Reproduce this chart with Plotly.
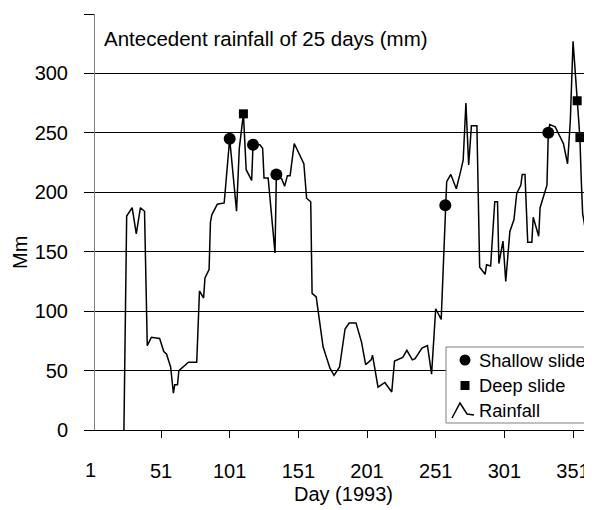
import plotly.graph_objects as go

# ---- data ----
rain_days = [24, 26, 30, 33, 36, 39, 41, 44, 50, 53, 55, 58, 60, 61, 63, 64, 71, 77, 79, 82,
             83, 86, 87, 88, 92, 97, 101, 106, 108, 111, 113, 117, 118, 123, 125, 126, 129, 134, 135, 139,
             141, 143, 145, 148, 155, 157, 160, 161, 164, 169, 174, 177, 181, 185, 188, 193, 197, 200, 204, 205,
             209, 214, 219, 221, 227, 230, 234, 236, 241, 245, 248, 251, 255, 258, 259, 262, 266, 269, 271, 273,
             275, 277, 281, 283, 287, 288, 291, 294, 296, 297, 300, 302, 305, 308, 310, 313, 314, 316, 318, 321,
             322, 326, 327, 332, 333, 334, 338, 341, 344, 347, 349, 351, 354, 356, 357, 358, 362, 365]
rain_vals = [0, 180, 187, 165, 187, 184, 71, 78, 77, 66, 64, 53, 31, 38, 38, 50, 57, 57, 117, 111,
             128, 135, 175, 181, 190, 191, 245, 184, 237, 266, 219, 210, 240, 240, 237, 212, 212, 149, 215, 211,
             205, 214, 214, 241, 224, 195, 192, 115, 112, 70, 52, 46, 53, 85, 90, 90, 74, 55, 59, 63,
             36, 40, 32, 58, 61, 67, 59, 60, 69, 71, 47, 102, 93, 189, 209, 215, 203, 217, 227, 275,
             223, 256, 256, 137, 131, 139, 138, 192, 192, 140, 159, 125, 167, 177, 199, 206, 215, 215, 158, 158,
             179, 163, 187, 206, 250, 257, 255, 248, 241, 224, 260, 327, 277, 246, 210, 182, 155, 167]

shallow_days = [101, 118, 135, 258, 333]
shallow_vals = [245, 240, 215, 189, 250]

deep_days = [111, 354, 356]
deep_vals = [266, 277, 246]

x_ticks = [51, 101, 151, 201, 251, 301, 351]
y_ticks = [0, 50, 100, 150, 200, 250, 300, 350]
y_ticktext = ["0", "50", "100", "150", "200", "250", "300", ""]

FONT = "Liberation Sans, Arial, sans-serif"

# The page body has an 8px default margin, so the figure is drawn 8px in from
# the window's top-left corner; size it so it still ends at the window edges.
OFF = 8
W, H = 592 - OFF, 510 - OFF
# plot area in window pixels
L, R, T, B = 95, 592, 14, 430


def px(x):
    return (x - L) / (R - L)


def py(y):
    return (B - y) / (B - T)


fig = go.Figure()
fig.add_trace(go.Scatter(x=rain_days, y=rain_vals, mode="lines", name="Rainfall",
                         line=dict(color="black", width=1.5), showlegend=False))
fig.add_trace(go.Scatter(x=shallow_days, y=shallow_vals, mode="markers", name="Shallow slide",
                         marker=dict(symbol="circle", size=12, color="black"), showlegend=False))
fig.add_trace(go.Scatter(x=deep_days, y=deep_vals, mode="markers", name="Deep slide",
                         marker=dict(symbol="square", size=9, color="black"), showlegend=False))

fig.update_layout(
    width=W, height=H,
    margin=dict(l=L - OFF, r=592 - R, t=T - OFF, b=510 - B, pad=0),
    paper_bgcolor="white", plot_bgcolor="white",
    font=dict(family=FONT, size=20, color="black"),
    showlegend=False,
)
fig.update_xaxes(range=[2.94, 364.8], tickvals=x_ticks, ticktext=[str(v) for v in x_ticks],
                 showgrid=False, zeroline=False, showline=True, linecolor="black", linewidth=1,
                 ticks="outside", ticklen=7, tickcolor="black", tickwidth=1,
                 ticklabelstandoff=16, tickfont=dict(size=20))
fig.update_yaxes(range=[0, 350], tickvals=y_ticks, ticktext=y_ticktext,
                 showgrid=True, gridcolor="black", gridwidth=1, zeroline=False,
                 showline=True, linecolor="#808080", linewidth=1,
                 ticks="outside", ticklen=10, tickcolor="black", tickwidth=1,
                 ticklabelstandoff=12, tickfont=dict(size=20))

ann = []
ann.append(dict(text="Antecedent rainfall of 25 days (mm)", xref="paper", yref="paper",
                x=px(102), y=py(38), xanchor="left", yanchor="middle", showarrow=False,
                font=dict(size=20.5)))
ann.append(dict(text="1", xref="paper", yref="paper", x=px(90), y=py(470),
                xanchor="center", yanchor="middle", showarrow=False, font=dict(size=20)))
ann.append(dict(text="Day (1993)", xref="paper", yref="paper", x=px(343), y=py(494),
                xanchor="center", yanchor="middle", showarrow=False, font=dict(size=20)))
ann.append(dict(text="Mm", xref="paper", yref="paper", x=px(20), y=py(253),
                xanchor="center", yanchor="middle", textangle=-90, showarrow=False,
                font=dict(size=20)))
# legend texts
for label, yc in [("Shallow slide", 360), ("Deep slide", 385.5), ("Rainfall", 410.5)]:
    ann.append(dict(text=label, xref="paper", yref="paper", x=px(477), y=py(yc),
                    xanchor="left", yanchor="middle", showarrow=False, font=dict(size=18.3)))

shapes = []
shapes.append(dict(type="rect", xref="paper", yref="paper", x0=px(446), x1=px(590),
                   y0=py(423), y1=py(347), line=dict(color="#808080", width=1),
                   fillcolor="white", layer="above"))
shapes.append(dict(type="circle", xref="paper", yref="paper", x0=px(459.5), x1=px(470.5),
                   y0=py(365.5), y1=py(354.5), line=dict(color="black", width=0),
                   fillcolor="black", layer="above"))
shapes.append(dict(type="rect", xref="paper", yref="paper", x0=px(460.5), x1=px(469.5),
                   y0=py(390), y1=py(381), line=dict(color="black", width=0),
                   fillcolor="black", layer="above"))
pts = [(452, 418), (460, 403), (467, 414), (474, 415)]
path = "M " + " L ".join(f"{px(a)},{py(b)}" for a, b in pts)
shapes.append(dict(type="path", xref="paper", yref="paper", path=path,
                   line=dict(color="black", width=1.5), layer="above"))

fig.update_layout(annotations=ann, shapes=shapes)
fig.write_html("out.html")
